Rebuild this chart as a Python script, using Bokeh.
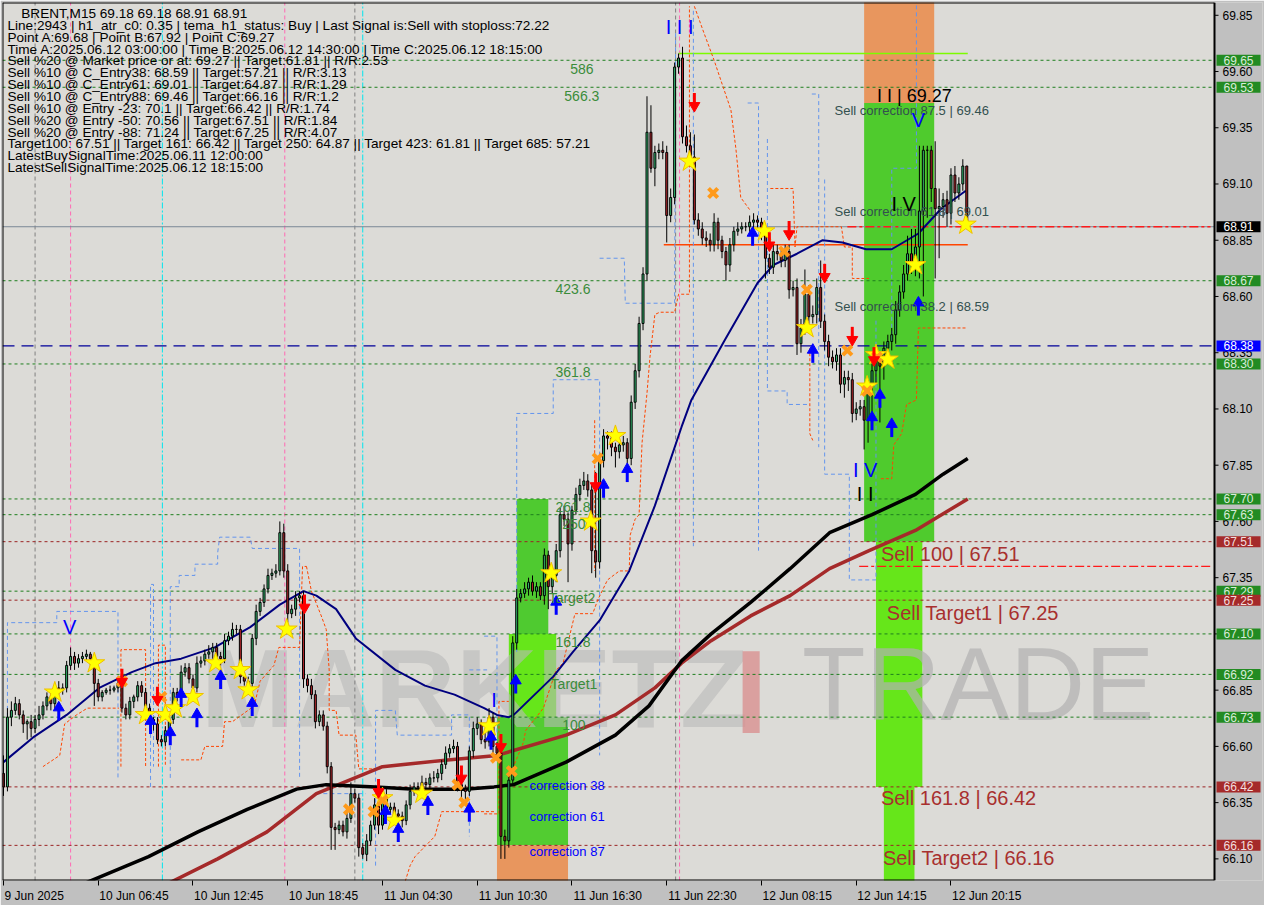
from bokeh.plotting import figure
from bokeh.models import Range1d, FixedTicker, Label, PrintfTickFormatter, ColumnDataSource
from bokeh.embed import file_html
from bokeh.resources import INLINE
from bokeh.core.properties import value

FONT = "Liberation Sans"

# ---------------------------------------------------------------- data
first_open = 66.48
closes = [
    66.42, 66.73, 66.76, 66.79, 66.74, 66.70, 66.71, 66.68, 66.72, 66.74,
    66.78, 66.82, 66.79, 66.86, 66.85, 66.86, 66.96, 67.00, 66.97, 66.99,
    67.00, 67.01, 66.99, 66.88, 66.82, 66.84, 66.85, 66.85, 66.86, 66.88,
    66.77, 66.74, 66.80, 66.82, 66.87, 66.84, 66.77, 66.72, 66.70, 66.63,
    66.62, 66.67, 66.72, 66.84, 66.82, 66.93, 66.95, 66.90, 66.86, 66.97,
    66.98, 67.01, 67.02, 67.04, 67.00, 66.99, 67.07, 67.09, 67.12, 67.12,
    66.91, 66.89, 66.88, 67.08, 67.20, 67.24, 67.30, 67.36, 67.37, 67.38,
    67.55, 67.38, 67.19, 67.21, 67.26, 67.27, 66.90, 66.87, 66.83, 66.71,
    66.74, 66.69, 66.51, 66.24, 66.23, 66.25, 66.22, 66.28, 66.39, 66.37,
    66.15, 66.12, 66.18, 66.25, 66.34, 66.25, 66.38, 66.32, 66.33, 66.30,
    66.29, 66.27, 66.34, 66.40, 66.42, 66.42, 66.44, 66.43, 66.46, 66.46,
    66.48, 66.52, 66.57, 66.59, 66.60, 66.43, 66.41, 66.40, 66.58, 66.68,
    66.70, 66.63, 66.62, 66.73, 66.60, 66.57, 66.20, 66.18, 66.45, 67.06,
    67.26, 67.28, 67.30, 67.33, 67.29, 67.31, 67.27, 67.45, 67.31, 67.36,
    67.47, 67.63, 67.61, 67.50, 67.65, 67.72, 67.76, 67.78, 67.74, 67.47,
    67.42, 67.87, 67.98, 67.97, 67.93, 67.91, 67.94, 67.95, 67.88, 68.13,
    68.27, 68.48, 68.70, 69.33, 69.17, 69.24, 69.25, 69.24, 68.96, 69.04,
    69.62, 69.66, 69.31, 69.27, 69.22, 68.94, 68.90, 68.86, 68.85, 68.83,
    68.93, 68.85, 68.80, 68.74, 68.83, 68.89, 68.90, 68.91, 68.91, 68.93,
    68.94, 68.93, 68.88, 68.77, 68.73, 68.80, 68.79, 68.76, 68.80, 68.63,
    68.64, 68.39, 68.46, 68.61, 68.51, 68.52, 68.64, 68.49, 68.40, 68.33,
    68.31, 68.34, 68.21, 68.24, 68.23, 68.08, 68.10, 68.11, 68.05, 68.20,
    68.27, 68.32, 68.29, 68.37, 68.40, 68.43, 68.54, 68.62, 68.70, 68.79,
    68.74, 68.82, 68.98, 69.25, 69.25, 69.08, 68.99, 69.00, 69.03, 68.97,
    69.14, 69.06, 69.10, 69.18, 68.91,
]
upper_wick_cents = [
    8, 4, 4, 3, 2, 2, 1, 3, 2, 4,
    2, 2, 3, 2, 3, 2, 2, 4, 2, 2,
    2, 2, 1, 2, 2, 1, 1, 2, 1, 2,
    2, 2, 2, 1, 2, 2, 2, 2, 1, 3,
    2, 2, 3, 2, 2, 3, 2, 2, 2, 3,
    2, 2, 3, 2, 2, 2, 3, 2, 3, 2,
    2, 2, 2, 2, 3, 2, 2, 3, 2, 3,
    5, 4, 3, 2, 3, 2, 2, 2, 3, 2,
    2, 2, 2, 2, 2, 2, 2, 3, 5, 2,
    2, 2, 3, 2, 3, 2, 2, 3, 2, 2,
    2, 2, 2, 3, 2, 2, 3, 2, 2, 3,
    2, 2, 3, 2, 3, 2, 3, 2, 2, 3,
    3, 2, 3, 4, 2, 2, 2, 3, 3, 3,
    4, 2, 3, 2, 3, 2, 2, 3, 2, 2,
    3, 3, 4, 3, 2, 3, 3, 4, 3, 3,
    35, 3, 3, 2, 3, 2, 2, 3, 2, 3,
    3, 3, 3, 16, 12, 3, 3, 4, 3, 4,
    2, 2, 5, 5, 6, 10, 3, 3, 3, 3,
    4, 2, 2, 2, 3, 2, 3, 2, 2, 3,
    3, 2, 2, 3, 2, 3, 3, 3, 3, 3,
    3, 4, 4, 11, 4, 4, 4, 12, 3, 3,
    3, 3, 3, 3, 3, 3, 3, 3, 3, 3,
    3, 3, 3, 3, 3, 3, 4, 3, 4, 8,
    11, 8, 29, 2, 2, 2, 21, 8, 3, 4,
    3, 4, 3, 3, 0,
]
lower_wick_cents = [
    4, 2, 4, 2, 2, 4, 7, 4, 2, 3,
    2, 2, 3, 3, 2, 2, 2, 2, 3, 2,
    2, 2, 3, 10, 2, 2, 1, 2, 1, 2,
    2, 2, 2, 3, 2, 2, 3, 2, 3, 2,
    2, 2, 3, 2, 2, 3, 2, 2, 3, 2,
    2, 2, 2, 3, 2, 3, 2, 2, 2, 2,
    3, 2, 5, 2, 3, 2, 2, 2, 2, 2,
    2, 3, 4, 2, 3, 2, 4, 3, 2, 3,
    2, 2, 3, 10, 9, 2, 2, 3, 2, 2,
    4, 2, 3, 2, 2, 4, 2, 3, 2, 3,
    2, 3, 2, 2, 2, 3, 2, 3, 2, 2,
    2, 3, 2, 2, 2, 3, 4, 6, 2, 3,
    3, 2, 3, 2, 4, 3, 10, 8, 3, 2,
    3, 2, 2, 3, 2, 3, 2, 4, 10, 3,
    3, 3, 3, 17, 3, 2, 3, 2, 3, 10,
    7, 3, 3, 5, 4, 7, 3, 3, 4, 3,
    3, 3, 3, 3, 2, 8, 3, 3, 12, 3,
    3, 3, 3, 3, 3, 2, 3, 3, 3, 3,
    3, 4, 3, 7, 3, 3, 2, 2, 2, 3,
    3, 3, 3, 9, 3, 3, 3, 3, 3, 4,
    3, 5, 4, 3, 4, 3, 4, 3, 4, 4,
    3, 4, 4, 6, 5, 4, 3, 3, 13, 10,
    12, 6, 25, 6, 4, 4, 4, 3, 3, 3,
    4, 5, 14, 38, 30, 6, 31, 22, 5, 6,
    5, 4, 3, 3, 0,
]

time_tick_bars = [0, 24, 48, 72, 96, 120, 144, 168, 192, 216, 240]
time_tick_labels = ["9 Jun 2025", "10 Jun 06:45", "10 Jun 12:45", "10 Jun 18:45",
                    "11 Jun 04:30", "11 Jun 10:30", "11 Jun 16:30", "11 Jun 22:30",
                    "12 Jun 08:15", "12 Jun 14:15", "12 Jun 20:15"]
price_ticks = [66.10, 66.35, 66.60, 66.85, 67.10, 67.35, 67.60, 67.85,
               68.10, 68.35, 68.60, 68.85, 69.10, 69.35, 69.60, 69.85]

green_levels = [69.65, 69.53, 68.67, 68.30, 67.70, 67.63, 67.29, 67.10, 66.92, 66.73]
red_levels = [67.51, 67.25, 66.42, 66.16]
last_price = 68.91
blue_level = 68.38
stop_level = 68.83          # orange-red solid line
point_a_level = 69.68        # lime line
dashdot_levels = [68.91, 67.40]
dashdot_start = [213.75, 216.75]

# moving averages (bar, price)
ma_fast_bars = [0, 7.5, 16, 24.25, 32.5, 38.5, 45, 53.5, 62.5, 70, 76, 79.25, 84.25, 89.25,
                99.25, 106.75, 114.25, 121.75, 125, 128, 129.25, 139.25, 144.25, 151, 158.5,
                165, 171.75, 174.25, 182.5, 191, 195, 201, 207.5, 212.5, 218.5, 225, 231.75,
                237.5, 243.75]
ma_fast_prices = [66.53, 66.64, 66.74, 66.86, 66.93, 66.97, 66.99, 67.04, 67.13, 67.23, 67.29,
                  67.27, 67.21, 67.08, 66.94, 66.87, 66.83, 66.77, 66.74, 66.73, 66.74, 66.91,
                  67.02, 67.16, 67.38, 67.67, 68.02, 68.14, 68.40, 68.66, 68.74, 68.79, 68.85,
                  68.84, 68.81, 68.81, 68.88, 68.99, 69.07]
ma_black_bars = [16.75, 21.75, 36.75, 49.25, 61.75, 74.25, 81.75, 94.25, 104.25, 116.75, 124.25,
                 129.25, 142.5, 155, 163.5, 171.75, 179.25, 189.25, 199.25, 209.25, 220, 231,
                 238, 244.25]
ma_black_prices = [65.96, 66.00, 66.11, 66.22, 66.32, 66.41, 66.43, 66.42, 66.41, 66.41, 66.42,
                   66.43, 66.53, 66.65, 66.78, 66.98, 67.10, 67.24, 67.39, 67.55, 67.63, 67.72,
                   67.81, 67.88]
ma_brown_bars = [40.5, 54.25, 66.75, 79.25, 96, 112.5, 125, 142.5, 155, 165, 171.75, 179.25,
                 189.25, 199.25, 209.25, 219.25, 231, 244.25]
ma_brown_prices = [65.98, 66.10, 66.22, 66.39, 66.51, 66.54, 66.56, 66.65, 66.74, 66.86, 66.97,
                   67.07, 67.18, 67.27, 67.39, 67.47, 67.56, 67.70]

# stepped envelope lines (bar lists, price lists)
blue_env_bars = [
    [1, 1, 13.5, 13.5, 29, 29],
    [37.25, 37.25, 38, 38],
    [42.25, 42.25, 44.5, 44.5, 48.5, 48.5, 54.25, 54.25, 54.75, 62.5, 63, 75, 75],
    [79.25, 91.75],
    [94.25, 94.25, 99.25, 99.75, 113.5, 113.5, 118, 118],
    [118, 122.5],
    [121.75, 125, 125],
    [130, 130, 139.25, 139.25, 151, 151],
    [151, 157.25, 157.5, 170, 170.25],
    [174.75, 174.75],
    [188.5, 191.25, 191.25],
    [193.5, 193.5, 198.5, 198.5, 204.25],
    [204.75, 206.5, 206.5],
    [208, 208, 214.25, 214.25, 221, 221],
    [225, 225, 231.25, 231.25],
]
blue_env_prices = [
    [66.42, 67.15, 67.15, 67.20, 67.20, 66.46],
    [66.42, 67.32, 67.32, 66.51],
    [66.46, 67.31, 67.31, 67.36, 67.36, 67.41, 67.41, 67.46, 67.53, 67.53, 67.48, 67.48, 66.46],
    [66.39, 66.39],
    [66.07, 66.76, 66.76, 66.65, 66.65, 66.74, 66.74, 66.20],
    [66.94, 66.94],
    [67.09, 67.09, 66.65],
    [67.02, 68.08, 68.08, 68.23, 68.23, 66.56],
    [68.77, 68.77, 68.57, 68.57, 69.78],
    [69.87, 67.49],
    [69.46, 69.46, 67.47],
    [69.30, 68.18, 68.18, 68.12, 68.12],
    [69.50, 69.50, 67.93],
    [69.12, 67.81, 67.81, 67.34, 67.34, 68.50],
    [68.43, 69.17, 69.17, 69.91],
]
orange_env_bars = [
    [10, 14.25, 15.5, 18.5, 21.25, 29.25],
    [29.75, 29.75, 36, 36],
    [39.25, 39.25, 41, 41],
    [45, 50, 51, 55.5, 56, 58, 63.5, 65, 68.5, 69.75, 75, 75.75, 76.75],
    [76.75, 78, 80.5, 81.75, 82.5, 82.5, 84.25, 85, 89.25, 90, 95.5],
    [101.75, 103, 104.25, 109.25, 111, 124.25],
    [121.75, 125.5, 125.5, 128],
    [128, 131.75, 132.25, 136.75, 140, 141.75, 144.75, 149.25, 150.5, 153, 156, 158.5, 158.75,
     160, 161, 161.75, 163, 163.75, 165, 166.25, 170, 171, 173.75, 173.75],
    [149.75, 149.75],
    [175, 177.25, 180, 182.5, 184.25, 185.5, 186.75, 189.25],
    [194.25, 200, 200.5, 201, 212.25, 213, 215, 215, 219.25],
    [204.25, 204.25, 205],
    [222.25, 225, 225.5, 227.5, 228.75, 231.25, 231.75, 243.75],
]
orange_env_prices = [
    [66.51, 66.56, 66.70, 66.74, 66.77, 66.77],
    [66.51, 67.03, 67.03, 66.51],
    [66.51, 67.05, 67.05, 66.51],
    [66.54, 66.54, 66.60, 66.60, 66.71, 66.71, 66.78, 66.89, 66.96, 67.04, 67.04, 67.40, 67.40],
    [67.40, 67.29, 67.18, 67.12, 66.94, 66.76, 66.76, 66.65, 66.65, 66.50, 66.50],
    [66.00, 66.07, 66.11, 66.20, 66.31, 66.31],
    [66.30, 66.30, 66.80, 66.80],
    [66.46, 66.62, 66.67, 66.77, 66.94, 66.97, 67.19, 67.19, 67.25, 67.34, 67.38, 67.38, 67.54,
     67.61, 67.63, 67.95, 68.17, 68.33, 68.52, 68.53, 68.53, 68.61, 68.61, 69.89],
    [68.05, 67.38],
    [69.89, 69.78, 69.65, 69.52, 69.43, 69.26, 69.04, 68.98],
    [69.08, 69.08, 68.82, 68.91, 68.91, 68.82, 68.82, 68.68, 68.68],
    [68.37, 67.99, 67.96],
    [67.79, 67.79, 67.94, 67.99, 68.12, 68.14, 68.46, 68.46],
]

# signal markers (bar, price)
star_bars = [13, 23, 36, 41, 43.5, 48, 53.75, 60, 62, 71.75, 96, 99, 106, 123, 138.75, 148.75,
             155, 173.75, 192.75, 203.5, 218.75, 221, 224, 231, 243.75]
star_prices = [66.84, 66.97, 66.74, 66.74, 66.77, 66.82, 66.97, 66.94, 66.85, 67.12, 66.37,
               66.27, 66.39, 66.69, 67.37, 67.60, 67.98, 69.20, 68.89, 68.46, 68.20, 68.34,
               68.32, 68.74, 68.92]
cross_bars = [30, 40, 87.5, 93.75, 96, 115, 116.75, 124.75, 128.75, 150.5, 179.75, 197.75,
              203.5, 213.75, 218.75, 221.25]
cross_prices = [66.89, 66.82, 66.32, 66.31, 66.36, 66.43, 66.35, 66.55, 66.49, 67.88, 69.06,
                68.80, 68.63, 68.36, 68.18, 68.33]
up_bars = [14, 37.25, 42.25, 45, 49, 55, 63, 96.75, 100, 107.5, 118, 123.5, 129.75, 140, 152,
           158, 189.75, 205, 220, 222, 225, 231.75]
up_prices = [66.75, 66.69, 66.64, 66.81, 66.72, 66.89, 66.77, 66.29, 66.21, 66.33, 66.30, 66.62,
             66.87, 67.22, 67.74, 67.81, 68.86, 68.34, 68.04, 68.14, 68.01, 68.55]
down_bars = [30, 39, 76.25, 95, 116, 126, 150, 175, 194, 199, 208, 215, 220.5]
down_prices = [66.91, 66.83, 67.24, 66.42, 66.48, 66.62, 67.78, 69.47, 68.85, 68.90, 68.71,
               68.43, 68.34]

# coloured zones
zone_left = [130, 128, 125, 125, 218, 218, 221, 223]
zone_right = [138, 140, 143, 143, 235.75, 235.75, 232.75, 230.75]
zone_top = [67.70, 67.10, 66.73, 66.16, 70.00, 69.46, 67.51, 66.42]
zone_bottom = [67.10, 66.73, 66.16, 65.90, 69.46, 67.51, 66.42, 65.90]
zone_colors = ["#4fca30", "#66e61a", "#52cc31", "#e8965e", "#e8965e", "#4fcb2d", "#66e61a", "#66e61a"]

vline_gray_bars = [8, 89, 170.25]
vline_pink_bars = [17, 71.25, 171.25]
vline_cyan_bars = [40.25, 91]

info_rows = [
    "Line:2943 | h1_atr_c0: 0.35 | tema_h1_status: Buy | Last Signal is:Sell with stoploss:72.22",
    "Point A:69.68 | Point B:67.92 | Point C:69.27",
    "Time A:2025.06.12 03:00:00 | Time B:2025.06.12 14:30:00 | Time C:2025.06.12 18:15:00",
    "Sell %20 @ Market price or at: 69.27 || Target:61.81 || R/R:2.53",
    "Sell %10 @ C_Entry38: 68.59 || Target:57.21 || R/R:3.13",
    "Sell %10 @ C_Entry61: 69.01 || Target:64.87 || R/R:1.29",
    "Sell %10 @ C_Entry88: 69.46 || Target:66.16 || R/R:1.2",
    "Sell %10 @ Entry -23: 70.1 || Target:66.42 || R/R:1.74",
    "Sell %20 @ Entry -50: 70.56 || Target:67.51 || R/R:1.84",
    "Sell %20 @ Entry -88: 71.24 || Target:67.25 || R/R:4.07",
    "Target100: 67.51 || Target 161: 66.42 || Target 250: 64.87 || Target 423: 61.81 || Target 685: 57.21",
    "LatestBuySignalTime:2025.06.11 12:00:00",
    "LatestSellSignalTime:2025.06.12 18:15:00",
]
header_text = "BRENT,M15  69.18 69.18 68.91 68.91"

fib_texts = ["586", "566.3", "423.6", "361.8", "261.8", "250", "Target2", "161.8", "Target1", "100"]
corr_texts = ["correction 38", "correction 61", "correction 87"]
sell_corr_texts = ["Sell correction 87.5 | 69.46", "Sell correction 61.8 | 69.01",
                   "Sell correction 38.2 | 68.59"]
sell_target_texts = ["Sell 100 | 67.51", "Sell Target1 | 67.25", "Sell 161.8 | 66.42",
                     "Sell Target2 | 66.16"]


# ------------------------------------------------ helpers for text placement
def bx(xpx):
    return (xpx - 3) / 4.0


def py(ypx):
    return 69.85 - (ypx - 15) / 228.8


CHART_W = 1212     # width of the candle area
COL_W = 48         # width of the price column on the right
FRAME_W = CHART_W + COL_W
x_start, x_axis = -0.25, 306.75           # candle area in bar units
px_per_bar = CHART_W / (x_axis - x_start)
x_end = x_start + FRAME_W / px_per_bar    # frame also holds the price column
y_start, y_end = py(895), py(2)

p = figure(frame_width=FRAME_W, frame_height=878,
           x_range=Range1d(x_start, x_end), y_range=Range1d(y_start, y_end),
           y_axis_location="right", output_backend="svg", toolbar_location=None,
           min_border_left=2, min_border_top=2, min_border_right=2, min_border_bottom=22)
p.background_fill_color = "#dcdbd7"
p.border_fill_color = "#c0c0c0"
p.outline_line_color = None
p.xgrid.visible = False
p.ygrid.visible = False

# price axis: the library's own tick labels, pulled back into the price column
ya = p.yaxis[0]
ya.ticker = FixedTicker(ticks=price_ticks)
ya.formatter = PrintfTickFormatter(format="%.2f")
ya.major_label_text_font = FONT
ya.major_label_text_font_size = "12px"
ya.major_label_text_color = "black"
ya.axis_line_color = None
ya.major_tick_line_color = None
ya.major_tick_out = 0
ya.major_tick_in = 0
ya.minor_tick_line_color = None
ya.major_label_standoff = -(COL_W - 8)

# time axis: tick marks (minor ticks) at the bars, labels (major ticks, no mark) shifted right
# by half their width so that they start at the tick, as in the terminal
label_half_px = [29.7 if t.startswith("9 ") else 34.7 for t in time_tick_labels]
label_pos = [round(b + (h + 1) / px_per_bar, 2) for b, h in zip(time_tick_bars, label_half_px)]
xa = p.xaxis[0]
xa.ticker = FixedTicker(ticks=label_pos, minor_ticks=time_tick_bars)
xa.major_label_overrides = {pos: t for pos, t in zip(label_pos, time_tick_labels)}
xa.major_label_text_font = FONT
xa.major_label_text_font_size = "12px"
xa.major_label_text_color = "black"
xa.major_label_standoff = 3
xa.axis_line_color = None
xa.major_tick_line_color = None
xa.major_tick_out = 5
xa.minor_tick_line_color = "black"
xa.minor_tick_out = 5
xa.minor_tick_in = 0

# price column background
p.quad(left=[x_axis], right=[x_end + 5], top=[y_end + 1], bottom=[y_start - 1],
       fill_color="#c0c0c0", line_color=None)

# zones
p.quad(left=zone_left, right=zone_right, top=zone_top, bottom=zone_bottom,
       fill_color=zone_colors, line_color=None)

# watermark
p.text(x=[bx(203)], y=[py(636)], text=["MARKETZ"], text_font=value(FONT), text_font_style="bold",
       text_font_size="112px", text_color="#b9b9b9", text_alpha=0.6, text_baseline="top")
p.text(x=[bx(744)], y=[py(636)], text=["I"], text_font=value(FONT), text_font_style="bold",
       text_font_size="118px", text_color="#d98c8c", text_alpha=0.75, text_baseline="top")
p.text(x=[bx(812)], y=[py(636)], text=["TRADE"], text_font=value(FONT),
       text_font_size="104px", text_color="#b0b0b0", text_alpha=0.7, text_baseline="top")

# vertical marker lines
n = len(vline_gray_bars)
p.segment(x0=vline_gray_bars, x1=vline_gray_bars, y0=[y_start] * n, y1=[y_end] * n,
          line_color="#808080", line_dash="4 3", line_width=1)
n = len(vline_pink_bars)
p.segment(x0=vline_pink_bars, x1=vline_pink_bars, y0=[y_start] * n, y1=[y_end] * n,
          line_color="#ff69b4", line_dash="4 3", line_width=1)
n = len(vline_cyan_bars)
p.segment(x0=vline_cyan_bars, x1=vline_cyan_bars, y0=[y_start] * n, y1=[y_end] * n,
          line_color="#00e5ee", line_dash="6 2 2 2", line_width=1)

# horizontal levels
n = len(green_levels)
p.segment(x0=[x_start] * n, x1=[x_axis] * n, y0=green_levels, y1=green_levels,
          line_color="#1f7f1f", line_dash="3 3", line_width=1)
n = len(red_levels)
p.segment(x0=[x_start] * n, x1=[x_axis] * n, y0=red_levels, y1=red_levels,
          line_color="#9b2424", line_dash="3 3", line_width=1)
p.segment(x0=[x_start], x1=[x_axis], y0=[last_price], y1=[last_price],
          line_color="#7a8796", line_width=1)
p.segment(x0=[x_start], x1=[x_axis], y0=[blue_level], y1=[blue_level],
          line_color="#00009a", line_dash="12 7", line_width=1.3)
p.segment(x0=dashdot_start, x1=[x_axis - 1] * len(dashdot_levels), y0=dashdot_levels,
          y1=dashdot_levels, line_color="#ff1a1a", line_dash="9 3 3 3", line_width=1.3)
p.segment(x0=[167.25], x1=[244.25], y0=[stop_level], y1=[stop_level],
          line_color="#ff4500", line_width=1.5)
p.segment(x0=[171.0], x1=[244.25], y0=[point_a_level], y1=[point_a_level],
          line_color="#7cfc00", line_width=1.5)

# envelopes
p.multi_line(xs=blue_env_bars, ys=blue_env_prices, line_color="#6495ed", line_dash="4 3",
             line_width=1)
p.multi_line(xs=orange_env_bars, ys=orange_env_prices, line_color="#ff4500", line_dash="3 2",
             line_width=1)

# moving averages
p.line(ma_brown_bars, ma_brown_prices, line_color="#a52a2a", line_width=3.5)
p.line(ma_black_bars, ma_black_prices, line_color="black", line_width=3.5)
p.line(ma_fast_bars, ma_fast_prices, line_color="#00007f", line_width=2)

# candles
opens = [first_open] + closes[:-1]
highs = [max(o, c) + u / 100.0 for o, c, u in zip(opens, closes, upper_wick_cents)]
lows = [min(o, c) - l / 100.0 for o, c, l in zip(opens, closes, lower_wick_cents)]
src = ColumnDataSource(dict(
    x=list(range(len(closes))),
    top=[max(o, c) for o, c in zip(opens, closes)],
    bottom=[min(o, c) for o, c in zip(opens, closes)],
    high=highs, low=lows,
    color=["#34b86f" if c >= o else "#b0262b" for o, c in zip(opens, closes)],
))
p.segment(x0="x", y0="high", x1="x", y1="low", source=src, line_color="black", line_width=1)
p.vbar(x="x", width=0.5, top="top", bottom="bottom", fill_color="color", line_color="black",
       line_width=1, source=src)

# signal markers
p.scatter(star_bars, star_prices, marker="star", size=22, fill_color="#ffff00",
          line_color="#f0c000", line_width=1)
p.scatter(cross_bars, cross_prices, marker="x", size=13, line_color="#ff9a1a", line_width=4)
p.scatter(up_bars, [v + 0.022 for v in up_prices], marker="triangle", size=11,
          fill_color="#0000ff", line_color="#0000ff")
p.segment(x0=up_bars, x1=up_bars, y0=[v + 0.012 for v in up_prices],
          y1=[v - 0.035 for v in up_prices], line_color="#0000ff", line_width=3)
p.scatter(down_bars, [v - 0.022 for v in down_prices], marker="inverted_triangle", size=11,
          fill_color="#ff0000", line_color="#ff0000")
p.segment(x0=down_bars, x1=down_bars, y0=[v - 0.012 for v in down_prices],
          y1=[v + 0.035 for v in down_prices], line_color="#ff0000", line_width=3)

# frame border (left, top, bottom) and price scale line with its tick marks
tick_len = 4 / px_per_bar
p.segment(x0=[x_start, x_start, x_start, x_axis], x1=[x_start, x_axis, x_axis, x_axis],
          y0=[y_start, y_end, y_start, y_start], y1=[y_end, y_end, y_start, y_end],
          line_color="black", line_width=2)
p.segment(x0=[x_axis] * len(price_ticks), x1=[x_axis + tick_len] * len(price_ticks),
          y0=price_ticks, y1=price_ticks, line_color="black", line_width=1)


def add_text(text, xpx, ypx, size, color, align="left", font=FONT, style="normal"):
    p.add_layout(Label(x=bx(xpx), y=py(ypx), text=text, text_font=font, text_font_size=size,
                       text_color=color, text_align=align, text_baseline="middle",
                       text_font_style=style))


# info block
add_text(header_text, 21, 13, "13.6px", "black")
for k, row in enumerate(info_rows):
    add_text(row, 7, 25.3 + 12.05 * k, "13.6px", "black")

# fib labels
fib_pos = [(589, 70), (589, 97), (580, 293), (580, 378), (580, 515), (581, 532),
           (579, 608), (580, 652), (581, 695), (581, 737)]
for t, (xx, yy) in zip(fib_texts, fib_pos):
    add_text(t, xx, yy, "14px", "#3a8c3a", align="center")
for t, yy in zip(corr_texts, [798, 830, 865]):
    add_text(t, 574, yy, "13px", "#0000ff", align="center")
for t, yy in zip(sell_corr_texts, [112, 215, 311]):
    add_text(t, 845, yy, "13px", "#33504f")
for t, (xx, yy) in zip(sell_target_texts, [(892, 563), (898, 623), (892, 811), (894, 872)]):
    add_text(t, xx, yy, "20px", "#a8302e")

# wave labels
add_text("I I | 69.27", 888, 97, "18px", "black")
add_text("I V", 915, 207, "20px", "black", align="center")
add_text("V", 930, 122, "20px", "#0000ff", align="center")
add_text("I V", 876, 477, "20px", "#0000ff", align="center")
add_text("I I", 876, 502, "20px", "black", align="center")
add_text("I I I", 688, 27, "20px", "#0000ff", align="center")
add_text("V", 70, 637, "20px", "#0000ff", align="center")
add_text("I", 500, 711, "20px", "#0000ff", align="center")

# price boxes in the price column
box_levels = green_levels + red_levels + [last_price, blue_level]
box_bg = ["#228b22"] * len(green_levels) + ["#a52a2a"] * len(red_levels) + ["black", "#0000ff"]
box_fg = ["#d8ecd8"] * len(green_levels) + ["#f2dede"] * len(red_levels) + ["white", "white"]
for lv, bg, fg in zip(box_levels, box_bg, box_fg):
    p.add_layout(Label(x=x_axis, y=lv, x_offset=2, text=f"{lv:.2f}", text_font=FONT,
                       text_font_size="12px", text_color=fg, text_align="left",
                       text_baseline="middle", background_fill_color=bg,
                       background_fill_alpha=1.0, padding=(7, 1)))

open("out.html", "w").write(file_html(p, INLINE))
